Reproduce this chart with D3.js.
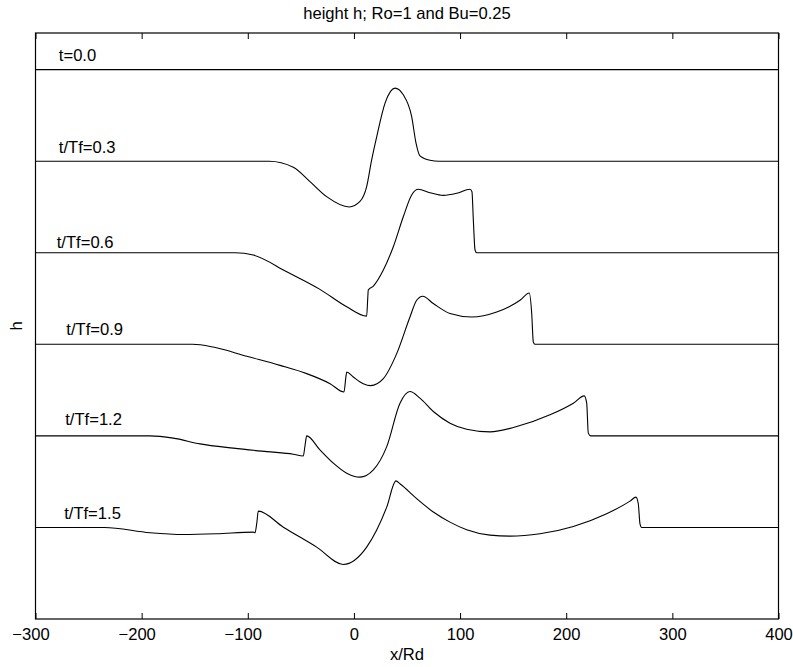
<!DOCTYPE html>
<html>
<head>
<meta charset="utf-8">
<script src="https://cdn.jsdelivr.net/npm/d3@7"></script>
<style>
  body { margin: 0; background: #fff; }
  svg text { font-family: "Liberation Sans", Arial, Helvetica, sans-serif; fill: #000; }
</style>
</head>
<body>
<div id="chart"></div>
<script>
// x/Rd tick values
const xTicks = [-300, -200, -100, 0, 100, 200, 300, 400];

// one label per snapshot, and the vertical offset each profile is drawn at
const labels = ['t=0.0', 't/Tf=0.3', 't/Tf=0.6', 't/Tf=0.9', 't/Tf=1.2', 't/Tf=1.5'];
const offsets = [0, -1, -2, -3, -4, -5];
// label anchor in data units (x/Rd, height above the profile's offset)
const labelX = [-278, -278, -280, -271, -272, -273];
const labelY = [0.09, 0.09, 0.05, 0.10, 0.12, 0.09];

// height perturbation profiles [x/Rd, h]
const h00 = [[-300, 0], [400, 0]];

const h03 = [[-300, 0], [-80, 0], [-57.1, -0.066], [-41.4, -0.223], [-25.7, -0.387],
  [-4.4, -0.50], [5.7, -0.44], [12, -0.278], [16.7, 0.014], [21.5, 0.269], [29.3, 0.634],
  [38.7, 0.798], [46.5, 0.725], [54.4, 0.487], [58.5, 0.197], [62.2, 0.058], [71.7, 0.01],
  [80, 0], [400, 0]];

const h06 = [[-300, 0], [-112, 0], [-94.8, -0.025], [-63.3, -0.208], [-32, -0.40],
  [-6.8, -0.59], [12, -0.692], [13, -0.5], [13.5, -0.408], [18.3, -0.364], [27.7, -0.189],
  [37.1, 0.066], [46.5, 0.393], [54.4, 0.631], [60.6, 0.693], [71.7, 0.656], [84.2, 0.627],
  [96.8, 0.649], [109.4, 0.693], [111.2, 0.667], [112.5, 0.357], [114.1, 0.03], [115.7, 0],
  [400, 0]];

const h09 = [[-300, 0], [-152, 0], [-132.5, -0.03], [-101, -0.131], [-69.6, -0.23],
  [-44.5, -0.32], [-22.5, -0.43], [-9.4, -0.521], [-7.5, -0.35], [-6.8, -0.303], [-0.6, -0.357],
  [8.8, -0.43], [15.8, -0.451], [27.7, -0.375], [40.3, -0.102], [52.8, 0.298], [59.1, 0.481],
  [64.8, 0.525], [74.8, 0.445], [90.5, 0.336], [111, 0.298], [134.5, 0.353], [156.5, 0.481],
  [165.2, 0.561], [167.5, 0.336], [169, 0.025], [170.6, 0], [400, 0]];

const h12 = [[-300, 0], [-192, 0], [-170.2, -0.025], [-145, -0.087], [-113.6, -0.134],
  [-82.2, -0.172], [-57.1, -0.2], [-47.7, -0.219], [-46, -0.1], [-44.5, 0], [-32, -0.153],
  [-19.4, -0.298], [-6.8, -0.408], [5.7, -0.451], [18.3, -0.372], [30.9, -0.117], [43.4, 0.357],
  [52.8, 0.484], [62.2, 0.412], [74.8, 0.266], [90.5, 0.139], [106.2, 0.073], [128.2, 0.044],
  [153.4, 0.102], [184.7, 0.23], [206.7, 0.357], [217, 0.437], [219.3, 0.357], [220.8, 0.03],
  [223.1, 0], [400, 0]];

const h15 = [[-300, 0], [-235, 0], [-192.1, -0.058], [-160.8, -0.077], [-129.3, -0.069],
  [-94.8, -0.051], [-93.2, -0.058], [-91.5, 0.05], [-90.1, 0.178], [-66.5, 0.003], [-35.1, -0.215],
  [-10, -0.404], [12, -0.215], [30.9, 0.222], [39.6, 0.508], [43.4, 0.477], [59.1, 0.314],
  [74.8, 0.168], [90.5, 0.058], [106.2, -0.025], [128.2, -0.084], [147, -0.095], [175.3, -0.069],
  [206.7, 0.011], [238.1, 0.15], [260.1, 0.287], [265.7, 0.331], [267.9, 0.259], [269.5, 0.04],
  [271.1, 0], [400, 0]];

const profiles = [h00, h03, h06, h09, h12, h15];

const W = 793, H = 667;
const margin = { top: 33, right: 14.5, bottom: 48, left: 35.5 };
const width = W - margin.left - margin.right;
const height = H - margin.top - margin.bottom;
const fontSize = '16.6px';

const svg = d3.select('#chart')
  .append('svg')
  .attr('width', W)
  .attr('height', H);

const g = svg.append('g')
  .attr('transform', `translate(${margin.left},${margin.top})`);

const x = d3.scaleLinear().domain([-300, 400]).range([0, width]);
const y = d3.scaleLinear().domain([-6, 0.4]).range([height, 0]);

// bottom axis with inward ticks
const xAxis = g.append('g')
  .attr('transform', `translate(0,${height})`)
  .call(d3.axisBottom(x).tickValues(xTicks).tickSize(-6).tickSizeOuter(0).tickPadding(9));
// matlab centres the digits, so the minus sign hangs to the left
xAxis.selectAll('text')
  .style('font-size', fontSize)
  .attr('dx', d => d < 0 ? '-0.3em' : 0);

// top axis, ticks only
g.append('g')
  .call(d3.axisTop(x).tickValues(xTicks).tickSize(-6).tickSizeOuter(0).tickFormat(''));

g.selectAll('.domain').remove();
g.selectAll('.tick line').attr('stroke', '#000');

// frame
g.append('rect')
  .attr('x', 0)
  .attr('y', 0)
  .attr('width', width)
  .attr('height', height)
  .attr('fill', 'none')
  .attr('stroke', '#000')
  .attr('stroke-width', 1.2);

const line = d3.line()
  .x(d => x(d[0]))
  .y(d => y(d[1]))
  .curve(d3.curveMonotoneX);

profiles.forEach((p, i) => {
  g.append('path')
    .datum(p.map(d => [d[0], d[1] + offsets[i]]))
    .attr('d', line)
    .attr('fill', 'none')
    .attr('stroke', '#000')
    .attr('stroke-width', 1.1);

  g.append('text')
    .attr('x', x(labelX[i]))
    .attr('y', y(offsets[i] + labelY[i]))
    .style('font-size', fontSize)
    .text(labels[i]);
});

// title and axis labels
g.append('text')
  .attr('x', width / 2)
  .attr('y', -14)
  .attr('text-anchor', 'middle')
  .style('font-size', fontSize)
  .text('height h; Ro=1 and Bu=0.25');

g.append('text')
  .attr('x', width / 2)
  .attr('y', height + 41)
  .attr('text-anchor', 'middle')
  .style('font-size', fontSize)
  .text('x/Rd');

g.append('text')
  .attr('transform', `translate(-14,${height / 2}) rotate(-90)`)
  .attr('text-anchor', 'middle')
  .style('font-size', fontSize)
  .text('h');
</script>
</body>
</html>
